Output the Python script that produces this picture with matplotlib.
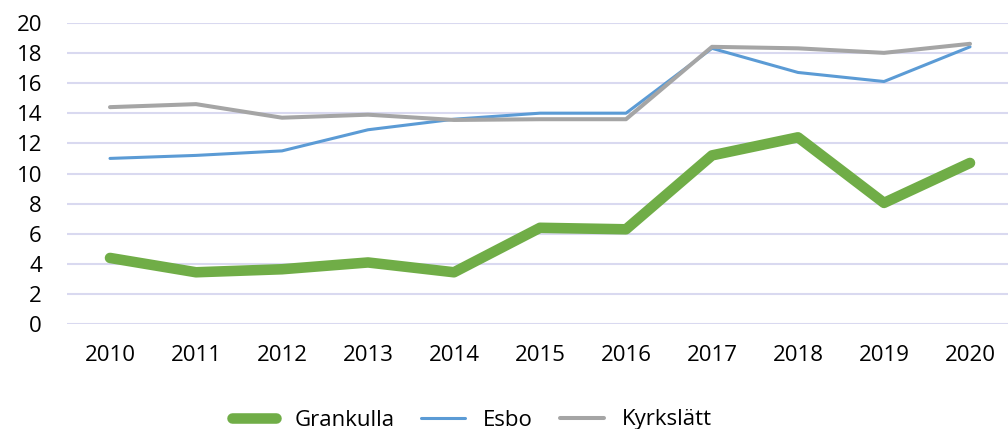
import matplotlib.pyplot as plt

years = ["2010", "2011", "2012", "2013", "2014", "2015", "2016", "2017", "2018", "2019", "2020"]
grankulla = [4.4, 3.45, 3.65, 4.1, 3.45, 6.4, 6.3, 11.2, 12.4, 8.05, 10.7]
esbo = [11.0, 11.2, 11.5, 12.9, 13.6, 14.0, 14.0, 18.3, 16.7, 16.1, 18.4]
kyrkslatt = [14.4, 14.6, 13.7, 13.9, 13.55, 13.6, 13.6, 18.4, 18.3, 18.0, 18.6]

plt.rcParams['font.family'] = ['Open Sans', 'DejaVu Sans']

fig = plt.figure(figsize=(10.08, 4.29), dpi=100)
ax = fig.add_axes([67 / 1008, (429 - 324.3) / 429, 946 / 1008, 301.6 / 429])

x = range(len(years))
ax.plot(x, grankulla, color='#70AD47', lw=7.6, solid_capstyle='round', label='Grankulla')
ax.plot(x, esbo, color='#5B9BD5', lw=2.2, solid_capstyle='round', label='Esbo')
ax.plot(x, kyrkslatt, color='#A5A5A5', lw=2.9, solid_capstyle='round', label='Kyrkslätt')

ax.set_xlim(-0.5, len(years) - 0.5)
ax.set_ylim(0, 20)
ax.set_yticks(range(0, 21, 2))
ax.set_xticks(list(x))
ax.set_xticklabels(years)
ax.grid(axis='y', color='#D9D9F0', lw=1.5)
ax.set_axisbelow(True)
for s in ax.spines.values():
    s.set_visible(False)
ax.tick_params(length=0, labelsize=16, colors='black')
ax.tick_params(axis='y', pad=18)
ax.tick_params(axis='x', pad=15)

# legend sits at the very bottom edge, as in the original
fig.legend(loc='center left', bbox_to_anchor=(232 / 1008, 1 - 420 / 429), ncol=3,
           frameon=False, fontsize=16, handlelength=2.0, handletextpad=0.8,
           columnspacing=1.2, borderpad=0, borderaxespad=0)

fig.savefig('out.png', dpi=100)
